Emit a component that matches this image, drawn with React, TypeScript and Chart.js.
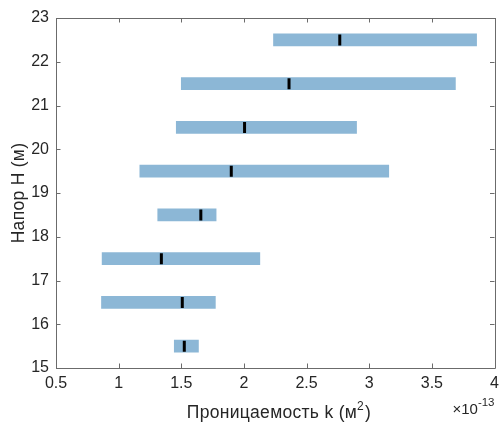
import React, { useEffect, useRef } from "react";
import { Chart, registerables } from "chart.js";

Chart.register(...registerables);

const heads = [15.5, 16.5, 17.5, 18.5, 19.5, 20.5, 21.5, 22.5];
const kMin = [1.444, 0.863, 0.868, 1.312, 1.169, 1.46, 1.5, 2.236];
const kMax = [1.637, 1.772, 2.127, 1.778, 3.156, 2.899, 3.688, 3.857];
const kMedian = [1.524, 1.508, 1.341, 1.656, 1.899, 2.005, 2.36, 2.765];
const xTickValues = [0.5, 1, 1.5, 2, 2.5, 3, 3.5, 4];
const yTickValues = [15, 16, 17, 18, 19, 20, 21, 22, 23];

const FONT = "'Liberation Sans', Arial, Helvetica, sans-serif";
const TEXT = "#262626";
const AXIS = "#6b6b6b";

const boxPlugin = {
  id: "matlabBox",
  afterDraw(chart: any) {
    const { ctx, chartArea } = chart;
    const { left, right, top, bottom } = chartArea;
    const xs = chart.scales.x;
    const ys = chart.scales.y;
    ctx.save();
    ctx.strokeStyle = AXIS;
    ctx.lineWidth = 1;
    ctx.beginPath();
    ctx.rect(Math.round(left) + 0.5, Math.round(top) + 0.5, Math.round(right - left), Math.round(bottom - top));
    ctx.stroke();
    const tl = 4.5;
    ctx.beginPath();
    for (const v of xTickValues) {
      const px = Math.round(xs.getPixelForValue(v)) + 0.5;
      ctx.moveTo(px, bottom);
      ctx.lineTo(px, bottom - tl);
      ctx.moveTo(px, top);
      ctx.lineTo(px, top + tl);
    }
    for (const v of yTickValues) {
      const py = Math.round(ys.getPixelForValue(v)) + 0.5;
      ctx.moveTo(left, py);
      ctx.lineTo(left + tl, py);
      ctx.moveTo(right, py);
      ctx.lineTo(right - tl, py);
    }
    ctx.stroke();

    // x axis title with superscript
    ctx.fillStyle = TEXT;
    ctx.textBaseline = "alphabetic";
    (ctx as any).letterSpacing = "0.3px";
    const main = "Проницаемость k (м";
    const sup = "2";
    const close = ")";
    const big = `17.5px ${FONT}`;
    const small = `12px ${FONT}`;
    ctx.font = big;
    const wMain = ctx.measureText(main).width;
    const wClose = ctx.measureText(close).width;
    ctx.font = small;
    const wSup = ctx.measureText(sup).width;
    const total = wMain + wSup + wClose + 1;
    const cx = 279;
    const x0 = cx - total / 2;
    const base = 418;
    ctx.textAlign = "left";
    ctx.font = big;
    ctx.fillText(main, x0, base);
    ctx.font = small;
    ctx.fillText(sup, x0 + wMain, base - 8);
    ctx.font = big;
    ctx.fillText(close, x0 + wMain + wSup + 1, base);

    // exponent label
    (ctx as any).letterSpacing = "0px";
    ctx.font = `15px ${FONT}`;
    const ex1 = "×10";
    const w1 = ctx.measureText(ex1).width;
    ctx.font = `11.5px ${FONT}`;
    const ex2 = "-13";
    const w2 = ctx.measureText(ex2).width;
    const ex0 = right - w1 - w2;
    ctx.font = `15px ${FONT}`;
    ctx.fillText(ex1, ex0, 414);
    ctx.font = `11.5px ${FONT}`;
    ctx.fillText(ex2, ex0 + w1, 406);

    // y axis title
    ctx.save();
    ctx.translate(19, (top + bottom) / 2);
    ctx.rotate(-Math.PI / 2);
    (ctx as any).letterSpacing = "0.3px";
    ctx.font = big;
    ctx.textAlign = "center";
    ctx.textBaseline = "middle";
    ctx.fillText("Напор Н (м)", 0, 0);
    ctx.restore();
    ctx.restore();
  },
};

export default function App() {
  const ref = useRef<HTMLCanvasElement | null>(null);
  useEffect(() => {
    if (!ref.current) return;
    const chart = new Chart(ref.current, {
      type: "bar",
      data: {
        datasets: [
          {
            type: "scatter",
            label: "median",
            data: heads.map((h, i) => ({ x: kMedian[i], y: h })),
            pointStyle: "line",
            rotation: 90,
            radius: 5.5,
            hoverRadius: 5.5,
            borderWidth: 3,
            borderColor: "#000000",
            backgroundColor: "#000000",
            order: 1,
          } as any,
          {
            type: "bar",
            label: "range",
            data: heads.map((h, i) => ({ x: [kMin[i], kMax[i]], y: h })) as any,
            backgroundColor: "rgb(140,183,214)",
            borderWidth: 0,
            barThickness: 12,
            order: 2,
          } as any,
        ],
      },
      options: {
        indexAxis: "y",
        animation: false,
        responsive: false,
        maintainAspectRatio: false,
        layout: { padding: { left: 0, top: 18, right: 6, bottom: 0 } },
        plugins: { legend: { display: false }, tooltip: { enabled: false } },
        scales: {
          x: {
            type: "linear",
            min: 0.5,
            max: 4,
            offset: false,
            grid: { display: false, drawTicks: false },
            border: { display: false },
            ticks: {
              stepSize: 0.5,
              padding: 6,
              color: TEXT,
              font: { family: FONT, size: 16 },
              maxRotation: 0,
              autoSkip: false,
              callback: (v: any) => String(v),
            },
            afterFit: (s: any) => {
              s.height = 57;
              s.paddingLeft = 0;
              s.paddingRight = 0;
            },
          },
          y: {
            type: "linear",
            min: 15,
            max: 23,
            offset: false,
            grid: { display: false, drawTicks: false },
            border: { display: false },
            ticks: {
              stepSize: 1,
              padding: 7,
              color: TEXT,
              font: { family: FONT, size: 16 },
              autoSkip: false,
              callback: (v: any) => String(v),
            },
            afterFit: (s: any) => {
              s.width = 56;
              s.paddingTop = 0;
              s.paddingBottom = 0;
            },
          },
        },
      } as any,
      plugins: [boxPlugin],
    });
    return () => chart.destroy();
  }, []);
  return (
    <div style={{ position: "fixed", left: 0, top: 0, width: 503, height: 425, background: "#fff" }}>
      <canvas ref={ref} width={503} height={425} style={{ width: 503, height: 425, display: "block" }} />
    </div>
  );
}
